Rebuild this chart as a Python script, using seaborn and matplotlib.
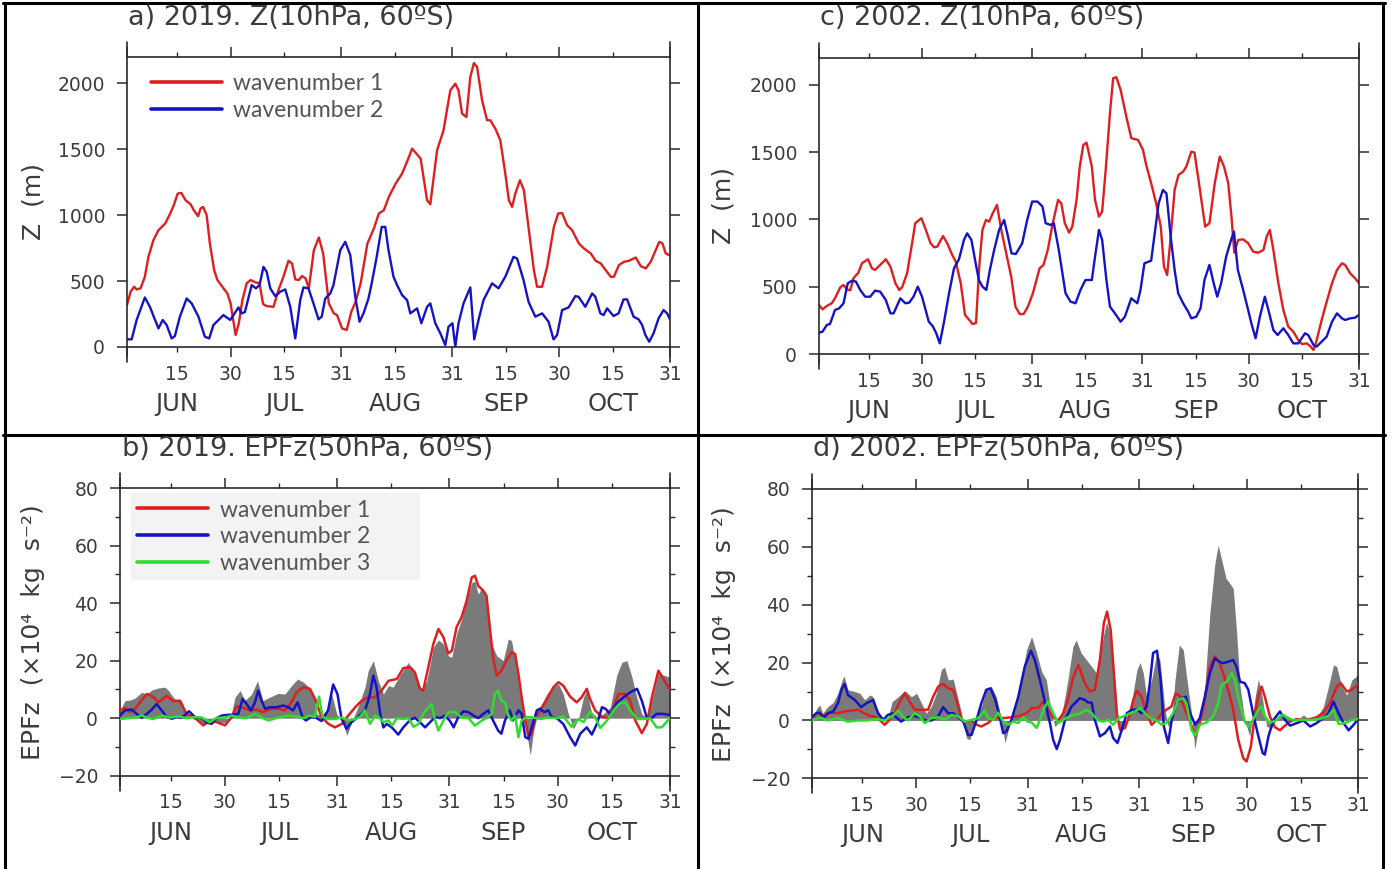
import numpy as np
import pandas as pd
import matplotlib
matplotlib.use("Agg")
import matplotlib.pyplot as plt
import seaborn as sns
from matplotlib.lines import Line2D
from matplotlib.patches import Rectangle

# ---------------- data (day index from 1 June, value) ----------------
A_RED = [(0,318),(1,419),(2,457),(2.7,437),(3.8,445),(5,533),(6,684),(7.4,811),(8.8,886),(10.7,937),(12.1,1013),
         (13.1,1076),(14.2,1164),(15.2,1169),(16.4,1113),(17.8,1083),(18.7,1038),(19.9,992),(20.6,1051),(21.3,1063),
         (22.3,1000),(23.2,785),(24.4,583),(25.3,508),(26.7,457),(28.1,406),(29,331),(30.4,91),(31.3,180),(32.3,356),
         (33.5,483),(34.6,508),(36,490),(37.1,483),(38.1,326),(39.1,310),(41,305),(42.4,432),(43.8,533),(45.2,654),
         (46.2,634),(47.1,513),(48.1,508),(49,538),(50,520),(50.9,445),(52.3,734),(53.7,831),(54.9,710),(56.5,331),
         (57.9,255),(58.8,242),(60.2,141),(61.5,129),(62.8,268),(64,343),(65.4,483),(67.3,785),(69.1,898),(70.5,1013),
         (71.9,1038),(73.3,1139),(75.2,1240),(77,1315),(78.9,1440),(79.8,1505),(82.2,1429),(84,1113),(84.9,1083),
         (86.8,1492),(88.6,1644),(90.5,1947),(91.9,1997),(92.8,1947),(93.8,1770),(95,1745),(96.1,2048),(97.1,2154),
         (98,2124),(99.4,1871),(100.8,1720),(101.7,1720),(103.1,1657),(104.5,1568),(105.9,1315),(106.9,1113),
         (107.8,1063),(108.7,1164),(110,1265),(111.1,1189),(112.5,886),(113.9,583),(114.8,457),(116.2,457),(117.6,608),
         (119.5,911),(120.7,1013),(121.8,1016),(123.2,924),(124.6,886),(126.5,785),(127.9,748),(129.8,710),(131.2,654),
         (132.6,634),(134,583),(135.4,533),(136.3,533),(137.7,621),(139.1,646),(140.5,654),(142.4,679),(143.8,614),
         (145.2,596),(146.6,646),(148,735),(149,798),(149.9,785),(150.8,710),(152,694)]

A_BLUE = [(0,58),(1.3,58),(2.7,205),(5,376),(6.4,305),(8.8,141),(10,205),(11.1,167),(12.5,65),(13.4,83),(14.8,230),
          (16.7,368),(18.1,331),(20,230),(21.8,78),(23,65),(24.2,167),(27,242),(28.9,205),(31.2,300),(32.1,255),
          (33,265),(34.9,470),(36.1,445),(37.1,470),(38.2,608),(39.1,570),(40.1,445),(41.5,386),(42.9,419),(44.3,437),
          (45.7,305),(47.1,65),(48.5,356),(49.4,452),(50.8,445),(52.2,331),(53.6,210),(54.5,230),(55.5,368),(56.9,406),
          (57.8,470),(59.7,735),(61.1,798),(62.5,697),(63.9,381),(65.1,192),(66.2,255),(67.6,368),(68.5,483),(69.9,684),
          (71.3,911),(72.3,911),(73.2,735),(74.6,533),(75.6,470),(77,394),(78.4,356),(79.3,255),(81.2,293),(82.4,180),
          (84,305),(84.9,331),(86.3,180),(87.7,104),(89.1,15),(90,154),(91.1,180),(91.9,3),(92.8,180),(94.2,331),
          (96.1,452),(97.2,58),(98.4,205),(99.8,356),(102.2,483),(104,445),(105.9,533),(108.2,684),(109.2,671),
          (111,508),(112.4,343),(114.3,230),(116.2,255),(118,192),(119.4,58),(120.4,91),(121.8,280),(123.6,300),
          (125.5,386),(126.4,381),(128.3,305),(130.2,406),(131.1,381),(132.5,255),(133.4,242),(134.4,293),(136.2,235),
          (137.6,255),(139,361),(140,361),(141.8,230),(143.2,210),(144.2,167),(145.1,91),(146.2,40),(147.4,104),
          (148.8,217),(150.2,280),(151.2,255),(152,210)]

C_RED = [(0,364),(1,332),(2.2,357),(3.6,377),(4.5,414),(6,496),(6.9,513),(7.8,481),(8.8,473),(9.7,563),(11.1,605),
         (12.1,675),(13.8,704),(14.9,637),(15.8,625),(17.2,662),(18.8,704),(20.1,650),(21.5,526),(22.6,476),(23.4,496),
         (24.8,600),(26.2,823),(27.1,972),(28.8,1009),(29.9,935),(31.4,823),(32.4,793),(33.3,798),(34.9,877),(36.1,823),
         (37.5,736),(38.5,686),(39.9,526),(41.1,290),(42.3,253),(43.2,223),(44.2,230),(45.1,649),(46,922),(47,996),
         (47.9,984),(48.9,1046),(50.1,1108),(51.3,922),(52.7,748),(54.1,575),(55.3,352),(56.5,297),(57.6,297),
         (58.8,352),(60.2,451),(62.1,637),(63.2,662),(64.4,774),(65.8,972),(67.3,1145),(68.2,1120),(69.2,972),
         (70.4,902),(71.3,947),(72.5,1145),(73.4,1393),(74.4,1554),(75.3,1571),(76.8,1393),(77.7,1145),(78.8,1021),
         (79.7,1058),(80.7,1368),(81.9,1790),(82.8,2050),(83.7,2057),(84.9,1963),(86.5,1765),(87.9,1604),(89.8,1591),
         (91.2,1517),(92.1,1405),(93.5,1269),(94.9,1120),(96.2,947),(97.1,649),(98,587),(99,872),(100.1,1219),
         (101.2,1331),(102.5,1356),(103.4,1393),(104.8,1504),(105.7,1497),(107.1,1244),(108.7,947),(109.9,972),
         (111.4,1269),(112.8,1467),(114,1393),(115.2,1269),(116.1,1021),(116.9,753),(118,848),(119.4,852),(120.8,823),
         (122.2,761),(123.6,753),(125.1,773),(126,872),(126.9,922),(127.9,773),(129.3,526),(130.7,327),(132.1,203),
         (133.5,166),(134.9,104),(135.9,74),(137.3,79),(138.2,60),(139.2,30),(140.1,104),(141.5,253),(142.9,389),
         (144.4,526),(145.8,625),(147.2,674),(148.1,662),(149.5,600),(150.9,563),(152,526)]

C_BLUE = [(0,158),(1,166),(2.2,216),(3.1,223),(4.5,327),(5.7,340),(6.9,377),(8.1,526),(9.3,545),(10.4,538),(11.6,476),
          (13,426),(14.4,426),(15.8,471),(17.2,464),(18.8,402),(20.1,302),(21,302),(22.9,414),(24.3,377),(25.4,382),
          (26.6,426),(27.8,501),(29,426),(30.9,240),(32,208),(33,154),(34,79),(35.2,240),(36.6,451),(38,637),(39.4,704),
          (40.8,848),(41.7,897),(42.9,848),(44.1,674),(45,550),(46,501),(47.1,476),(48.1,625),(49.3,773),(50.7,922),
          (52.1,996),(53,897),(54.2,748),(55.4,743),(57.2,823),(58.6,996),(60,1133),(61.5,1133),(62.9,1096),(63.8,972),
          (65.2,959),(66.1,972),(67.5,773),(69.4,451),(70.8,389),(72.2,377),(73.6,476),(75,550),(76.8,550),(77.7,723),
          (78.8,922),(79.7,848),(80.9,550),(81.9,352),(83.3,302),(84.9,240),(86.1,277),(87.9,414),(89.6,377),(90.5,476),
          (91.6,674),(93.5,694),(94.5,897),(95.6,1120),(96.8,1219),(97.8,1194),(99,872),(100.1,625),(101.1,451),
          (102.5,377),(103.9,315),(104.8,265),(106.2,277),(107.4,340),(108.5,550),(109.9,662),(111.1,526),(112.1,426),
          (113.2,526),(114.6,723),(116,848),(116.8,910),(117.9,625),(119.4,476),(120.8,327),(121.7,228),(122.9,117),
          (124.1,277),(125.5,426),(126.5,327),(127.9,178),(129.1,141),(130.7,191),(132.1,141),(133.5,79),(134.9,79),
          (136.8,154),(137.7,141),(139.2,67),(140.1,55),(141.5,92),(142.9,129),(144.4,240),(145.8,302),(147.2,265),
          (148.1,253),(149.5,265),(150.9,270),(152,290)]

B_TOT = [(0,2.7),(1.4,6.1),(2.8,6.3),(4.2,7),(6,9),(7.4,8.4),(8.8,9.8),(10.6,10.5),(12.4,10.8),(13.4,9.6),(14.7,7.3),
         (15.7,6.1),(17,6.1),(18,2.7),(19.3,0),(21,-0.5),(23,-2),(25,-1),(27,-1.5),(29,-1.5),(30.5,0),(31.8,7.3),
         (33.2,9.6),(34.5,6.1),(36.4,8.4),(38,13),(39.5,6.1),(41.4,7.3),(43.7,8.6),(45.6,8.4),(47.4,11.3),(49.1,13.6),
         (50.7,12.5),(52,11),(53.4,8.4),(54.4,1.5),(55.7,0.9),(57.1,2.7),(58.5,8.4),(59.9,1.5),(61.7,-2),(62.7,-6),
         (64,-1.5),(65.9,4.3),(67.7,10.8),(68.6,16.5),(70,20),(71.4,13),(72.8,8.4),(74.2,11.3),(75.5,10.8),(77.4,15),
         (79.7,19.4),(81.5,15),(83.4,9.6),(84.8,13),(86.6,24.6),(88,27.2),(89.4,25.8),(90.7,21.7),(91.7,21.2),
         (93,29.2),(94.4,34.4),(95.8,40.8),(97.2,47.1),(98.1,47.6),(99,43.1),(100,45.4),(100.9,43.1),(101.8,33.9),
         (102.7,25.8),(104.1,21.7),(105.9,20),(107.3,27.5),(108.2,27),(109.2,20),(110.1,11.9),(111.5,1.5),
         (112.4,-5.4),(113.4,-12.9),(114.3,-4.3),(115.7,2.7),(118,8.4),(119.8,10.8),(121.2,11.9),(122.5,8.4),
         (123.9,1.5),(125.3,-3.7),(126.7,-0.3),(128.1,7.3),(129,9.6),(130.4,1.5),(131.8,0.3),(133.6,1.5),(135.5,3.8),
         (137.3,15),(138.7,19.4),(140.1,20),(141.5,14.2),(142.8,7.3),(144.2,1.5),(145.6,0),(147.4,8.4),(148.8,15.6),
         (150.2,15),(152,14.2)]

B_RED = [(0,2.7),(1.4,3.5),(2.8,2.1),(4.2,3.3),(5.5,5.5),(7.4,8.4),(9.2,7.4),(10.6,5.5),(12.9,7.8),(14.7,5.9),
         (16.5,6.1),(18.4,1.5),(20.7,0.1),(23,-2.5),(24.8,-1),(26.7,-1.4),(29,-2.5),(30.9,0.4),(32.2,4.1),(34.1,3.6),
         (35.9,2.7),(37.7,3),(39.6,2.1),(41.9,3.3),(43.7,3.3),(45.6,2.7),(47.4,5.5),(48.8,9),(50.7,10.8),(52.5,10.2),
         (53.9,6.7),(55.7,0.4),(57.6,-2),(59.4,-3.2),(61.3,-2),(63.1,0.9),(65,3.8),(66.8,6.1),(68.6,7.3),(70.5,7.3),
         (72.3,9.6),(74.2,13),(76.5,13.6),(78.3,17.4),(80.2,17.7),(81.5,15.9),(82.9,10.2),(83.8,9.6),(85.2,17.7),
         (86.6,25.8),(88,31),(89.4,28.1),(90.7,22.5),(91.7,23.4),(93,31.6),(94.4,35.1),(95.8,40.8),(97.2,48.9),
         (98.1,49.5),(99,46),(100.4,44.3),(101.3,42.5),(102.2,31.6),(103.1,21.2),(104.1,14.8),(105.4,16.5),
         (106.8,20),(108.2,22.9),(109.2,22.3),(110.1,15.4),(111,7.3),(112,-0.8),(112.9,-6.6),(113.8,-5.4),
         (114.7,-0.3),(116.1,2.7),(118,6.7),(119.8,10.8),(121.2,12.5),(122.5,11.3),(124.4,7.5),(126.2,5.5),
         (127.6,7.3),(129,10.2),(129.9,6.7),(131.3,2.7),(133.2,0.4),(135,0.1),(136.4,3.8),(137.8,8.4),(139.6,8.4),
         (141,6.1),(142.4,-0.8),(144.2,-5.2),(145.6,-2),(147,7.3),(148.8,16.5),(150.2,13.6),(152,9.8)]

B_BLUE = [(0,0.9),(1.4,2.7),(3.2,3),(4.6,1.5),(6,0.1),(7.4,1.5),(8.8,3),(10.1,4.9),(11.5,2.7),(12.9,0.4),(14.3,-0.2),
          (15.7,0.4),(17,0.1),(19.1,2.4),(20.7,0.4),(22.6,0),(23.9,-1.4),(25.3,-2),(26.7,0),(28.1,0.9),(29.4,1.1),
          (30.9,1.2),(32.7,1.5),(33.9,6.7),(35,4.9),(36.2,2.7),(37.3,5.5),(38.2,9.6),(39.1,6.1),(40.1,3.3),(41.4,3.8),
          (43.2,3.8),(45.1,4.4),(46.5,3.8),(47.8,2.7),(49.1,5.5),(50.5,0.1),(51.4,-0.8),(52.8,0.4),(54.2,0.1),
          (55.7,-1),(57.5,2.7),(58.9,11.7),(60.1,8.4),(61.2,0),(62.6,-3.7),(64,-1.4),(65.8,0.4),(67.7,2.7),(68.9,7.3),
          (70,14.8),(70.9,10.8),(71.9,1.5),(72.8,-3.2),(73.7,-2),(75.1,-3.2),(76.9,-5.7),(78.3,-3.2),(80.2,-0.6),
          (81.5,0.1),(82.9,-1.4),(84.3,-3.2),(85.7,-1.4),(87.1,0.4),(88.5,0),(89.8,0.9),(91.2,-1),(92.2,-3.2),
          (93.5,0.4),(94.9,2.4),(96.3,2.1),(97.7,0.9),(99,0),(100.4,1.5),(101.8,2.7),(103.1,-0.8),(104.5,-4.3),
          (105.4,-5.4),(106.4,-0.8),(107.7,2.7),(108.6,-0.8),(110.1,2.7),(111,1.5),(112,-6.6),(112.9,-7.2),
          (113.8,-3.2),(115.2,2.7),(116.1,3.3),(117.2,2.1),(118.4,2.7),(119.3,0.4),(120.7,0),(122.5,-2),(124.4,-6.6),
          (125.8,-9.5),(127.2,-5.4),(129,-3.2),(130.4,-5.7),(131.8,-2),(133.2,3.8),(134.1,3.3),(135.5,1.5),
          (137.3,5.2),(139.2,7.3),(141,9),(142.9,10.2),(144.2,6.1),(145.6,0.1),(147,0.1),(148.3,1.5),(150.2,1.5),
          (152,1.1)]

B_GREEN = [(0,-0.3),(2.3,0),(4.2,0.2),(6,0.9),(7.4,0.2),(9.2,-0.3),(11.5,0.9),(13.8,0.2),(16.1,0.6),(18.4,0),
           (20.7,0.4),(22.6,0.2),(24.8,-1.4),(26.7,0.1),(29,0.2),(30.9,0.9),(32.7,0.2),(35,0),(37.3,1.5),(39.1,0.2),
           (41,-0.8),(43.7,0.2),(46.5,0.9),(48.8,0.6),(50.7,0),(52.5,0.9),(53.9,0.4),(55,7.5),(56,0.4),(57.5,-0.3),
           (59.4,-0.3),(61.2,0.2),(63.1,-0.8),(65,-0.3),(66.3,0.4),(67.7,2.7),(69.1,-2),(70.5,0.9),(71.4,0.4),
           (72.8,-1.4),(74.2,-0.8),(75.2,-2.6),(76.5,0),(78.3,-0.3),(79.7,0),(81.1,-3),(82.5,-2),(83.8,1.5),(85.2,3.8),
           (86.1,4.9),(87.1,-0.8),(88,-4.3),(89.4,-0.8),(90.7,2.1),(92.6,2.1),(94.4,0.2),(96.3,0),(98.1,-2.6),
           (100,-0.8),(101.3,0),(102.7,1.5),(103.6,8.4),(104.5,9.6),(105.4,6.1),(106.4,5.5),(107.3,0.9),(108.2,-0.8),
           (109.2,0.9),(110.1,-6.6),(111,-0.8),(112.4,0.4),(114.3,0.2),(116.1,-0.3),(118.4,0.2),(120.7,0),(122.5,0.6),
           (124.8,-3),(126.7,-0.3),(128.1,-1.4),(129.9,2.1),(131.3,0.4),(132.7,-3.4),(134.6,-0.8),(136.4,2.7),
           (138.2,5.2),(139.6,5.5),(141,2.7),(142.9,-0.3),(144.7,-0.3),(146.5,0),(148.3,-3.2),(149.7,-3.2),(152,0)]

D_TOT = [(0,0.2),(1.2,3.9),(2.1,5.4),(3,2.5),(4.4,4.8),(5.9,6.2),(7.2,9.4),(8.4,14),(8.9,15.4),(10,10.6),(11.9,10),
         (13.3,9.4),(14.7,7.1),(16.1,8.8),(17,8.2),(18.4,2.5),(19.8,0),(21.1,0.8),(22.3,6.5),(24,8.2),(25.8,10.3),
         (27.7,8.2),(29.1,9.4),(30.5,5.9),(31.8,2.5),(33.2,4.8),(34.6,9.4),(36,17.7),(36.9,18.4),(37.9,14),(39.3,14.3),
         (40.7,7.1),(41.6,2.5),(43,-6.1),(43.9,-6.7),(45.3,0.2),(47.1,4.8),(48.5,10.6),(49.9,11.7),(51.3,8.2),
         (52.7,0.2),(53.7,-7.8),(55.1,-0.9),(56.5,4.8),(58.3,15.2),(59.7,24.4),(61.1,29),(62.5,23.3),(63.9,16.9),
         (65.2,14),(66.6,2.5),(67.6,-2.1),(68.5,-0.9),(69.9,4.8),(71.2,14),(72.6,25.5),(73.5,27.8),(74.9,23.3),
         (76.4,20.9),(78.2,18),(79.2,16.3),(80.1,22.1),(81.2,30),(82,34),(83.4,27.8),(84.4,11.7),(85.3,-2.1),
         (86.2,-3.8),(87.6,0.2),(89,7.1),(90.4,17.5),(91.3,20),(92.2,16.3),(93.1,8.2),(94.5,14),(95.9,23.3),
         (96.8,20.9),(98.2,3.7),(99.1,-2.1),(100.1,0.2),(101,14),(102.2,26.1),(103.3,24.4),(104.2,15.2),(105.6,2.5),
         (106.5,-9.9),(107.9,0.2),(109.3,11.7),(110.7,37),(112.1,54.3),(113,60.6),(114,55.4),(115.2,49.1),
         (116.3,47.3),(117.2,45.6),(118.1,31.2),(119.1,11.7),(120.4,0.2),(121.8,-5.5),(123.3,8.2),(124.2,14.3),
         (125.1,9.4),(126.5,-2.1),(127.9,-2.6),(129.3,0.8),(131.2,2.5),(133,0.5),(134.9,0),(136.7,1.9),(138.6,0.2),
         (140.4,0.8),(142.3,4.8),(143.7,11.7),(145.1,19.2),(146,18.6),(147.4,11.7),(148.8,8.8),(150.2,14),(152,15.8)]

D_RED = [(0,0.2),(1.7,1.1),(3.5,1.9),(5.3,2.7),(7.2,2.5),(9.1,3.1),(10.9,3.4),(12.8,3.7),(14.2,2.7),(16.1,1.6),
         (17.9,1.1),(19.3,-0.4),(20.2,-1.5),(21.6,0.2),(23,2.5),(24.4,6.5),(25.8,9.4),(27.2,6.5),(28.6,3.7),(30.5,3.7),
         (32.3,3.7),(33.7,8.2),(35.1,11.7),(36.5,12.6),(37.9,11.1),(39.3,10.6),(40.7,4.8),(41.6,0.2),(43,-0.4),
         (44.4,0),(45.8,-1.5),(47.1,-2.1),(49,-0.9),(50.8,1.1),(53.2,0.8),(55.5,1.1),(57.8,1.6),(59.7,2.5),(61.1,4.3),
         (63,4.3),(64.3,6.5),(65.7,3.7),(67.1,1.1),(68.5,0),(69.9,2.5),(71.2,7.1),(72.6,14.6),(74.1,19.2),(75.9,12.9),
         (77.3,10),(78.7,10.6),(80.1,20.9),(81.2,33.6),(82.1,37.6),(83.1,31.3),(84,16.3),(84.8,2.5),(85.7,-3.2),
         (87.1,-2.6),(88.5,2.5),(89.4,7.1),(90.4,10.2),(91.7,8.2),(93.1,2.5),(94.5,-1.5),(95.9,0.2),(97.3,2.5),
         (98.6,3.7),(100,4.8),(101.2,9.4),(102.3,8.5),(103.8,3.7),(105.2,-0.4),(106.6,-5.5),(107.9,-0.9),(109.3,7.1),
         (110.7,18.6),(112.1,22.1),(113.3,20.3),(114.4,16.3),(115.8,10.6),(117.2,3.7),(118.6,-6.7),(120,-13.1),
         (120.9,-14.2),(122.1,-9.1),(123.3,2.5),(124.2,8.8),(125.1,11.7),(126,8.2),(127.4,1.4),(128.8,-2.3),
         (130.2,-3.4),(131.6,-1.8),(133,-0.4),(134.9,0.5),(136.7,0),(138.6,0.5),(140.4,1.1),(142.3,2.7),(144.1,5.9),
         (146,11.7),(147.1,12.9),(148.8,10),(150.2,10.6),(152,12.6)]

D_BLUE = [(0,1.1),(1.2,2.5),(2.1,2.7),(3.3,0.8),(4.4,2.5),(5.9,3.1),(7.2,5.9),(8.2,10.6),(9.1,12.6),(10,8.8),
          (11.9,7.1),(13.7,4.6),(15.1,5.9),(17,7.1),(18.4,2.5),(19.8,0.2),(21.1,1.9),(22.5,2.5),(23.4,1.1),(24.8,-0.4),
          (26.7,1.1),(28.5,1.6),(29.9,1.1),(31.4,0),(33.2,0),(35.1,1.4),(36.5,4.6),(37.9,2.5),(39.3,2.5),(40.7,1.1),
          (42.1,-0.4),(43.4,-5),(44.4,-5),(45.8,0.2),(47.1,5.9),(48.5,10.6),(49.7,11.1),(51,7.1),(52.2,1.4),(53.2,-4.4),
          (54.1,-3.8),(55.5,0.2),(57.4,8.2),(59.2,18.6),(60.9,24.1),(62,20.9),(63.4,14),(64.8,6.5),(66.2,-0.9),
          (67.1,-6.7),(68.1,-9.9),(69,-6.7),(70.4,0.2),(72.2,4.8),(73.6,6.5),(74.5,7.7),(75.9,7.1),(76.8,6.2),
          (77.8,6.2),(78.7,0.2),(80.1,-5.5),(81.5,-4.4),(82.9,-2.1),(83.8,-6.1),(85,-7.8),(86.2,-3.2),(87.6,2.5),
          (89,3.7),(90.4,3.7),(91.7,2.5),(93.1,4.8),(94,12.9),(94.9,23.3),(96,24.1),(97,14),(97.9,-2.1),(99.1,-7.8),
          (100.1,0.2),(101.4,5.9),(102.8,7.7),(104,8.2),(105.2,2.5),(106.6,-1.5),(107.9,0.8),(109.3,8.2),(110.7,16.3),
          (112.1,21.5),(113.3,20.3),(114.4,19.8),(115.8,20.3),(117.2,20.9),(118.1,18.6),(119.1,13.4),(120.4,12.9),
          (121.4,10.6),(122.7,2.5),(124.2,-5.5),(125.4,-11.3),(126,-11.8),(127,-5.5),(128.4,0.2),(130.2,3.1),
          (131.6,0.2),(133,-1.8),(134.9,-0.9),(136.7,0),(138.6,-2.1),(140.4,-0.9),(142.3,0.8),(143.7,2.5),(145.1,6.5),
          (146.5,2.5),(147.9,-0.9),(149.3,-3.4),(150.7,-1.5),(152,0.5)]

D_GREEN = [(0,0),(2.1,1.1),(4.4,0),(7.2,0.8),(10,-0.4),(12.8,0),(15.6,0),(17.9,0.5),(20.2,0),(22.3,1.4),(24,3.4),
           (25.4,1.1),(26.7,0),(28.6,2.5),(30,1.4),(31.4,-0.9),(33.2,0.8),(35.1,1.1),(36.9,0.2),(38.8,1.9),(40.7,1.4),
           (42.5,-0.4),(44.4,0.2),(46.2,0.8),(48.1,3.4),(49,0.8),(50.4,0.2),(51.8,2.7),(53.2,-0.4),(54.6,-1.5),
           (55.9,-0.4),(57.4,-0.9),(58.8,1.1),(60,-0.4),(61.1,-0.7),(62.5,-2.6),(63.4,0.2),(64.8,4.8),(65.7,6.5),
           (67.1,2.5),(68.5,-0.9),(69.9,0.2),(71.2,1.1),(72.6,1.9),(74.1,2.2),(75.5,3.1),(76.4,3.7),(77.8,2.5),
           (79.6,0),(81,-0.4),(82.4,0.2),(83.8,-1.5),(85.3,0.8),(86.7,1.4),(88.5,2.5),(89.9,3.1),(91.3,4.3),(92.7,2.5),
           (94.1,0.8),(95.9,0),(97.3,-1.5),(98.6,-0.9),(100.5,2.5),(101.9,7.1),(103.3,7.7),(104.2,5.9),(105.6,-3.2),
           (106.6,-5.2),(107.9,-1.5),(109.8,-0.7),(111.6,1.4),(113,5.9),(114,12.2),(115.4,13.4),(116.8,16.3),
           (117.7,14),(118.6,8.2),(119.5,3.7),(120.4,-0.4),(121.4,-2.1),(122.7,0.2),(124.2,3.7),(125.1,4.8),(126,1.4),
           (127.4,-0.9),(129.3,0.2),(130.7,1.9),(132.1,1.1),(134,0),(135.8,0.2),(138.6,0.2),(141.4,0.5),(143.7,1.6),
           (145.1,3.7),(146.5,-1.2),(148.4,-0.9),(150.2,0.2),(152,0.5)]

X_MAJOR = [0, 29, 60, 91, 121, 152]
X_MAJOR_LABELS = ["", "30", "31", "31", "30", "31"]
X_MINOR = [14, 44, 75, 106, 136]
X_MINOR_LABELS = ["15", "15", "15", "15", "15"]
MONTHS = ["JUN", "JUL", "AUG", "SEP", "OCT"]
SERIES = ["wavenumber 1", "wavenumber 2", "wavenumber 3"]
TITLES = ["a) 2019. Z(10hPa, 60ºS)", "b) 2019. EPFz(50hPa, 60ºS)",
          "c) 2002. Z(10hPa, 60ºS)", "d) 2002. EPFz(50hPa, 60ºS)"]

RED, BLUE, GREEN, GRAY = "#dd1f1f", "#1414c4", "#2fdc2f", "#7a7a7a"
TXT = "#3c3c3c"
AXC = "#2a2a2a"

sns.set_theme(style="white")
plt.rcParams["font.family"] = ["DejaVu Sans"]

W, H = 1395, 869
fig = plt.figure(figsize=(W / 100, H / 100), dpi=100)


def rect(l, t, r, b):
    return [l / W, 1 - b / H, (r - l) / W, (b - t) / H]


def to_df(pairs_list, names):
    frames = []
    for pairs, name in zip(pairs_list, names):
        arr = np.array(pairs, dtype=float)
        frames.append(pd.DataFrame({"day": arr[:, 0], "value": arr[:, 1], "series": name}))
    return pd.concat(frames, ignore_index=True)


def style(ax, ylim, ymajor, yminor, ylabel, hpx, label_x):
    ax.set_xlim(0, 152)
    ax.set_ylim(*ylim)
    for s in ax.spines.values():
        s.set_visible(True)
        s.set_color(AXC)
        s.set_linewidth(1.2)
    ax.set_xticks(X_MAJOR)
    ax.set_xticklabels(X_MAJOR_LABELS)
    ax.set_xticks(X_MINOR, minor=True)
    ax.set_xticklabels(X_MINOR_LABELS, minor=True)
    ax.set_yticks(ymajor)
    ax.set_yticklabels([str(v).replace("-", "\u2212") for v in ymajor])
    if yminor is not None:
        ax.set_yticks(yminor, minor=True)
    ax.tick_params(axis="x", which="major", direction="out", length=7.2, width=1.1, color=AXC,
                   top=True, bottom=True, pad=5.5, labelsize=13.5, labelcolor=TXT)
    ax.tick_params(axis="x", which="minor", direction="out", length=3.6, width=1.0, color=AXC,
                   top=True, bottom=True, pad=9.1, labelsize=13.5, labelcolor=TXT)
    ax.tick_params(axis="y", which="major", direction="out", length=7.2, width=1.1, color=AXC,
                   left=True, right=True, pad=8.6, labelsize=13.5, labelcolor=TXT)
    ax.tick_params(axis="y", which="minor", direction="out", length=3.6, width=1.0, color=AXC,
                   left=True, right=True)
    ax.set_xlabel("")
    ax.set_ylabel(ylabel, fontsize=18, color=TXT)
    ax.yaxis.set_label_coords(label_x, 0.5)
    ext = 15 / hpx
    for xx in (0, 1):
        ax.plot([xx, xx], [1, 1 + ext], transform=ax.transAxes, clip_on=False, color=AXC, lw=1.2)
        ax.plot([xx, xx], [0, -ext], transform=ax.transAxes, clip_on=False, color=AXC, lw=1.2)
    for d, m in zip(X_MINOR, MONTHS):
        ax.text(d, -57 / hpx, m, transform=ax.get_xaxis_transform(), ha="center", va="center",
                fontsize=17.5, color=TXT)


def put_title(title, xy):
    fig.text(xy[0] / W, 1 - xy[1] / H, title, fontsize=19.5, color=TXT, ha="left", va="baseline")


def z_panel(pos, red, blue, title, title_xy, label_x, legend):
    ax = fig.add_axes(rect(*pos))
    df = to_df([red, blue], SERIES[:2])
    sns.lineplot(data=df, x="day", y="value", hue="series", palette=[RED, BLUE], estimator=None,
                 sort=True, linewidth=1.7, legend=False, ax=ax)
    style(ax, (0, 2200), [0, 500, 1000, 1500, 2000], None, "Z  (m)", pos[3] - pos[1], label_x)
    put_title(title, title_xy)
    if legend:
        handles = [Line2D([], [], color=c, lw=2.6) for c in (RED, BLUE)]
        ax.legend(handles, SERIES[:2], loc="upper left", bbox_to_anchor=(0.044, 0.945), frameon=False,
                  prop={"family": "Lato", "size": 16.5}, labelcolor="#555555", handlelength=3.1,
                  handletextpad=0.5, labelspacing=0.28, borderpad=0, borderaxespad=0)
    return ax


def ep_panel(pos, tot, red, blue, green, title, title_xy, label_x, legend):
    ax = fig.add_axes(rect(*pos))
    t = np.array(tot, dtype=float)
    ax.fill_between(t[:, 0], 0, t[:, 1], color=GRAY, lw=0, zorder=1)
    df = to_df([red, blue, green], SERIES)
    sns.lineplot(data=df, x="day", y="value", hue="series", palette=[RED, BLUE, GREEN], estimator=None,
                 sort=True, linewidth=1.8, legend=False, ax=ax, zorder=3)
    style(ax, (-20, 80), [-20, 0, 20, 40, 60, 80], [-10, 10, 30, 50, 70],
          "EPFz  (\u00d710\u2074  kg  s\u207b\u00b2)", pos[3] - pos[1], label_x)
    put_title(title, title_xy)
    if legend:
        ax.add_patch(Rectangle((0.02, 0.68), 0.525, 0.303, transform=ax.transAxes, facecolor="#f3f3f3",
                               edgecolor="none", zorder=0.5))
        handles = [Line2D([], [], color=c, lw=2.6) for c in (RED, BLUE, GREEN)]
        ax.legend(handles, SERIES, loc="upper left", bbox_to_anchor=(0.031, 0.96), frameon=False,
                  prop={"family": "Lato", "size": 16.5}, labelcolor="#555555", handlelength=3.1,
                  handletextpad=0.5, labelspacing=0.25, borderpad=0, borderaxespad=0)
    return ax


z_panel((127, 57, 670, 347), A_RED, A_BLUE, TITLES[0], (128, 25), -0.151, True)
z_panel((819, 58, 1359, 354), C_RED, C_BLUE, TITLES[2], (820, 25), -0.154, False)
ep_panel((120, 488, 670, 775.7), B_TOT, B_RED, B_BLUE, B_GREEN, TITLES[1], (122, 456), -0.137, True)
ep_panel((812, 489, 1358.3, 778.3), D_TOT, D_RED, D_BLUE, D_GREEN, TITLES[3], (813, 456), -0.140, False)

# panel frames
for (x0, y0, x1, y1) in [(3, 3, 1385, 3), (3, 435, 1385, 435), (5, 3, 5, 869), (698, 3, 698, 869),
                         (1383, 3, 1383, 869)]:
    fig.add_artist(Line2D([x0 / W, x1 / W], [1 - y0 / H, 1 - y1 / H], color="black", lw=2.2))

fig.savefig("out.png", dpi=100, facecolor="white")
